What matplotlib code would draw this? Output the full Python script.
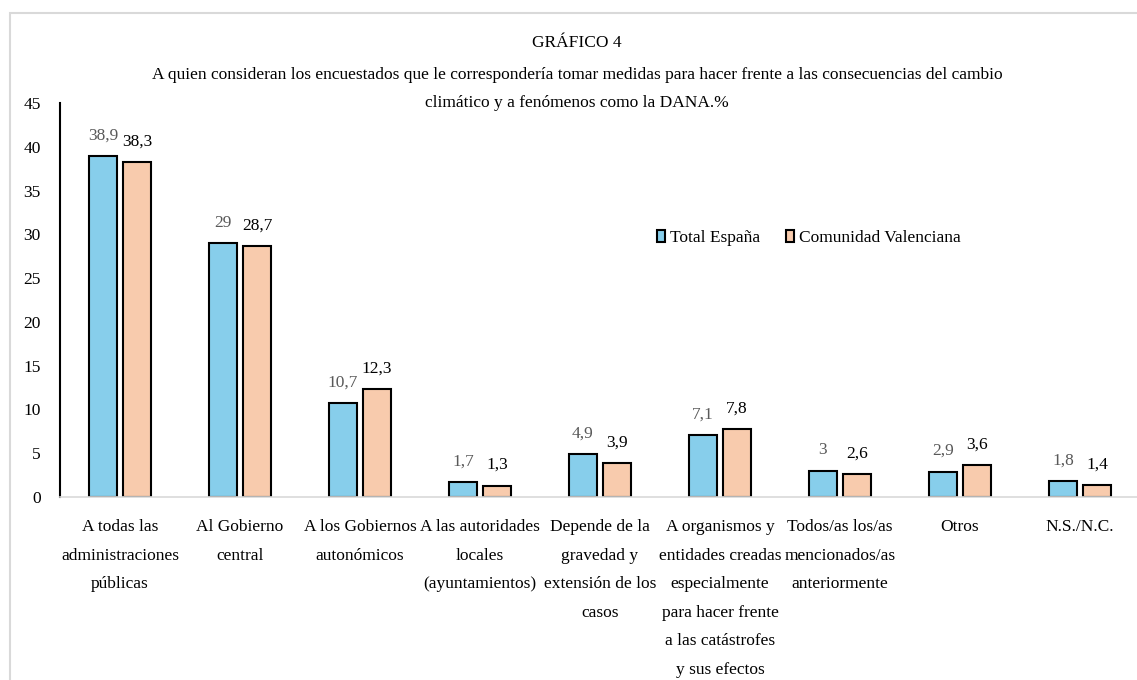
import numpy as np
import matplotlib
matplotlib.use("Agg")
import matplotlib.pyplot as plt
from matplotlib.patches import Rectangle

# datos del gráfico
categorias = [
    "A todas las\nadministraciones\npúblicas",
    "Al Gobierno\ncentral",
    "A los Gobiernos\nautonómicos",
    "A las autoridades\nlocales\n(ayuntamientos)",
    "Depende de la\ngravedad y\nextensión de los\ncasos",
    "A organismos y\nentidades creadas\nespecialmente\npara hacer frente\na las catástrofes\ny sus efectos",
    "Todos/as los/as\nmencionados/as\nanteriormente",
    "Otros",
    "N.S./N.C.",
]
total_espana = [38.9, 29, 10.7, 1.7, 4.9, 7.1, 3, 2.9, 1.8]
comunidad_valenciana = [38.3, 28.7, 12.3, 1.3, 3.9, 7.8, 2.6, 3.6, 1.4]
series = ["Total España", "Comunidad Valenciana"]
y_ticks = [0, 5, 10, 15, 20, 25, 30, 35, 40, 45]
titulo = [
    "GRÁFICO 4",
    "A quien consideran los encuestados que le correspondería tomar medidas para hacer frente a las consecuencias del cambio",
    "climático y a fenómenos como la DANA.%",
]

plt.rcParams['font.family'] = ['Liberation Serif', 'DejaVu Serif']
fs = 12.5

W, H = 1137, 680
fig = plt.figure(figsize=(W / 100, H / 100), dpi=100)
ax = fig.add_axes([60 / W, (H - 497) / H, (1140 - 60) / W, 394 / H])

x = np.arange(len(categorias))
ancho = 0.235
azul = "#87CEEB"
naranja = "#F8CBAD"

b1 = ax.bar(x - 0.142, total_espana, ancho, color=azul, edgecolor="black", linewidth=1.5, label=series[0])
b2 = ax.bar(x + 0.142, comunidad_valenciana, ancho, color=naranja, edgecolor="black", linewidth=1.5, label=series[1])


def fmt(v):
    return ("%g" % v).replace(".", ",")


for rect, v in zip(b1, total_espana):
    ax.annotate(fmt(v), (rect.get_x() + rect.get_width() / 2, v), xytext=(0, 9),
                textcoords="offset points", ha="center", va="bottom", fontsize=fs, color="#595959")
for rect, v in zip(b2, comunidad_valenciana):
    ax.annotate(fmt(v), (rect.get_x() + rect.get_width() / 2, v), xytext=(0, 9),
                textcoords="offset points", ha="center", va="bottom", fontsize=fs, color="black")

ax.set_xlim(-0.5, len(categorias) - 0.5)
ax.set_ylim(0, 45)
ax.set_yticks(y_ticks)
ax.set_xticks(x)
ax.set_xticklabels(categorias, fontsize=fs, linespacing=2.04)
ax.tick_params(axis="both", length=0, labelsize=fs)
ax.tick_params(axis="y", pad=14)
ax.tick_params(axis="x", pad=16)

for s in ["top", "right"]:
    ax.spines[s].set_visible(False)
ax.spines["left"].set_color("black")
ax.spines["left"].set_linewidth(1.5)
ax.spines["bottom"].set_color("#d9d9d9")
ax.spines["bottom"].set_linewidth(1.2)

ax.legend(loc="center left", bbox_to_anchor=(641 / W, 1 - 238 / H), bbox_transform=fig.transFigure,
          ncol=2, frameon=False, fontsize=fs, handlelength=0.5, handleheight=0.65,
          handletextpad=0.25, columnspacing=1.5)

for texto, yy in zip(titulo, [43, 75, 103]):
    fig.text(577 / W, 1 - yy / H, texto, ha="center", va="center", fontsize=fs)

# marco gris
fig.add_artist(Rectangle((10 / W, -0.05), 1.1, 1 - 13 / H + 0.05, transform=fig.transFigure,
                         fill=False, edgecolor="#d9d9d9", linewidth=1.5))

fig.savefig("out.png", dpi=100)
